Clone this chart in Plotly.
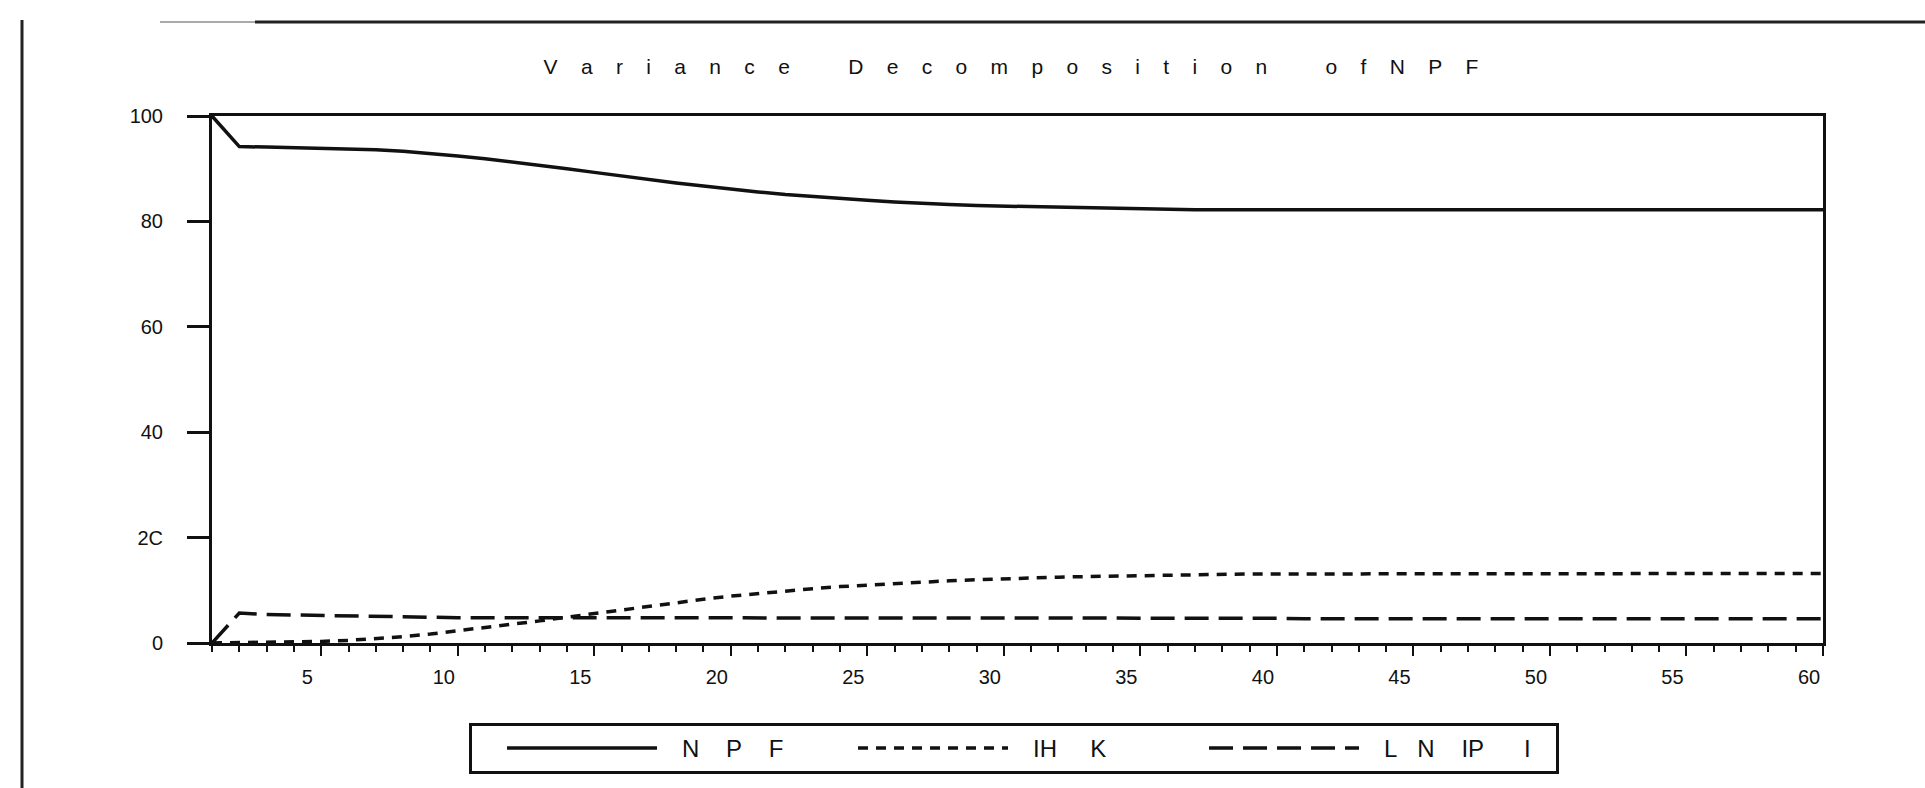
import plotly.graph_objects as go

periods = list(range(1, 61))

npf = [100.0, 94.2, 94.1, 94.0, 93.9, 93.8, 93.6, 93.3, 92.9, 92.4,
       91.9, 91.3, 90.7, 90.0, 89.3, 88.6, 87.9, 87.3, 86.7, 86.1,
       85.6, 85.1, 84.7, 84.3, 84.0, 83.7, 83.4, 83.2, 83.0, 82.9,
       82.7, 82.6, 82.5, 82.4, 82.3, 82.3, 82.2, 82.2, 82.2, 82.2,
       82.2, 82.2, 82.2, 82.2, 82.2, 82.2, 82.2, 82.2, 82.2, 82.2,
       82.2, 82.2, 82.2, 82.2, 82.2, 82.2, 82.2, 82.2, 82.2, 82.2]

ihk = [0.0, 0.05, 0.1, 0.2, 0.3, 0.5, 0.8, 1.2, 1.7, 2.3,
       2.9, 3.5, 4.2, 4.9, 5.6, 6.3, 7.0, 7.7, 8.3, 8.9,
       9.4, 9.9, 10.3, 10.7, 11.0, 11.3, 11.6, 11.8, 12.0, 12.2,
       12.4, 12.5, 12.6, 12.7, 12.8, 12.9, 13.0, 13.0, 13.1, 13.1,
       13.1, 13.2, 13.2, 13.2, 13.2, 13.2, 13.2, 13.2, 13.2, 13.2,
       13.2, 13.2, 13.2, 13.2, 13.2, 13.2, 13.2, 13.2, 13.2, 13.2]

lnipi = [0.0, 5.7, 5.4, 5.3, 5.2, 5.1, 5.0, 4.9, 4.9, 4.8,
         4.8, 4.8, 4.8, 4.8, 4.8, 4.7, 4.7, 4.7, 4.7, 4.7,
         4.7, 4.7, 4.7, 4.7, 4.7, 4.7, 4.7, 4.7, 4.7, 4.7,
         4.7, 4.7, 4.7, 4.7, 4.7, 4.7, 4.7, 4.7, 4.7, 4.7,
         4.6, 4.6, 4.6, 4.6, 4.6, 4.6, 4.6, 4.6, 4.6, 4.6,
         4.6, 4.6, 4.6, 4.6, 4.6, 4.6, 4.6, 4.6, 4.6, 4.6]

x_ticks = [5, 10, 15, 20, 25, 30, 35, 40, 45, 50, 55, 60]
y_ticks = [0, 20, 40, 60, 80, 100]
y_labels = ["0", "2C", "40", "60", "80", "100"]

NB = "\u00a0"

def spaced(words, inner=4, outer=10):
    return (NB * outer).join((NB * inner).join(w) for w in words)

# "Variance Decomposition of NPF" with the wide letter spacing of the original
title_text = spaced(["Variance", "Decomposition", "ofNPF"])
names = [NB * 3 + "N" + NB * 4 + "P" + NB * 4 + "F",
         NB * 3 + "IH" + NB * 5 + "K",
         NB * 3 + "L" + NB * 3 + "N" + NB * 4 + "IP" + NB * 6 + "I"]

FONT = "Liberation Sans, Arial, sans-serif"
INK = "#111"

fig = go.Figure()
fig.add_trace(go.Scatter(x=periods, y=npf, mode="lines", name=names[0],
                         line=dict(color=INK, width=3.5)))
fig.add_trace(go.Scatter(x=periods, y=ihk, mode="lines", name=names[1],
                         line=dict(color=INK, width=3.5, dash="10px,8px")))
fig.add_trace(go.Scatter(x=periods, y=lnipi, mode="lines", name=names[2],
                         line=dict(color=INK, width=3.5, dash="24px,10px")))

W, H = 1925, 788
L, R, T, B = 212, 102, 116, 145
pw, ph = W - L - R, H - T - B

def px(xp):
    return (xp - L) / pw

def py(yp):
    return (H - B - yp) / ph

shapes = [
    # outer scan frame
    dict(type="line", xref="paper", yref="paper", x0=px(22), x1=px(22), y0=py(20), y1=py(788),
         line=dict(color="#222", width=3)),
    dict(type="line", xref="paper", yref="paper", x0=px(255), x1=px(1925), y0=py(22), y1=py(22),
         line=dict(color="#222", width=3)),
    dict(type="line", xref="paper", yref="paper", x0=px(160), x1=px(255), y0=py(22), y1=py(22),
         line=dict(color="#aaa", width=2)),
]

fig.update_layout(
    width=W, height=H,
    margin=dict(l=L, r=R, t=T, b=B),
    paper_bgcolor="white", plot_bgcolor="white",
    font=dict(family=FONT, color=INK, size=20),
    title=dict(text=title_text, x=px(1011), xanchor="center", xref="paper",
               y=1 - 67 / H, yanchor="middle",
               font=dict(family=FONT, size=21, color=INK)),
    showlegend=True,
    legend=dict(orientation="h", x=px(469), xanchor="left",
                y=py(723), yanchor="top",
                bordercolor=INK, borderwidth=3, bgcolor="white",
                font=dict(family=FONT, size=24, color=INK),
                title=dict(text=NB * 3, side="left", font=dict(size=24)),
                itemwidth=150, entrywidth=186, entrywidthmode="pixels",
                traceorder="normal"),
    shapes=shapes,
)

fig.update_xaxes(range=[1, 60], tickvals=x_ticks, ticks="outside", ticklen=10, tickwidth=2,
                 tickcolor=INK, showline=True, linecolor=INK, linewidth=3, mirror=True,
                 showgrid=False, zeroline=False, ticklabelshift=-14, ticklabelstandoff=4,
                 minor=dict(dtick=1, tick0=1, ticks="outside", ticklen=6, tickwidth=2,
                            tickcolor=INK, showgrid=False),
                 tickfont=dict(size=20, family=FONT, color=INK))
fig.update_yaxes(range=[0, 100], tickvals=y_ticks, ticktext=y_labels, ticks="outside",
                 ticklen=22, tickwidth=3, tickcolor=INK, showline=True, linecolor=INK,
                 linewidth=3, mirror=True, showgrid=False, zeroline=False,
                 ticklabelstandoff=20,
                 tickfont=dict(size=20, family=FONT, color=INK))

fig.write_html("out.html")
